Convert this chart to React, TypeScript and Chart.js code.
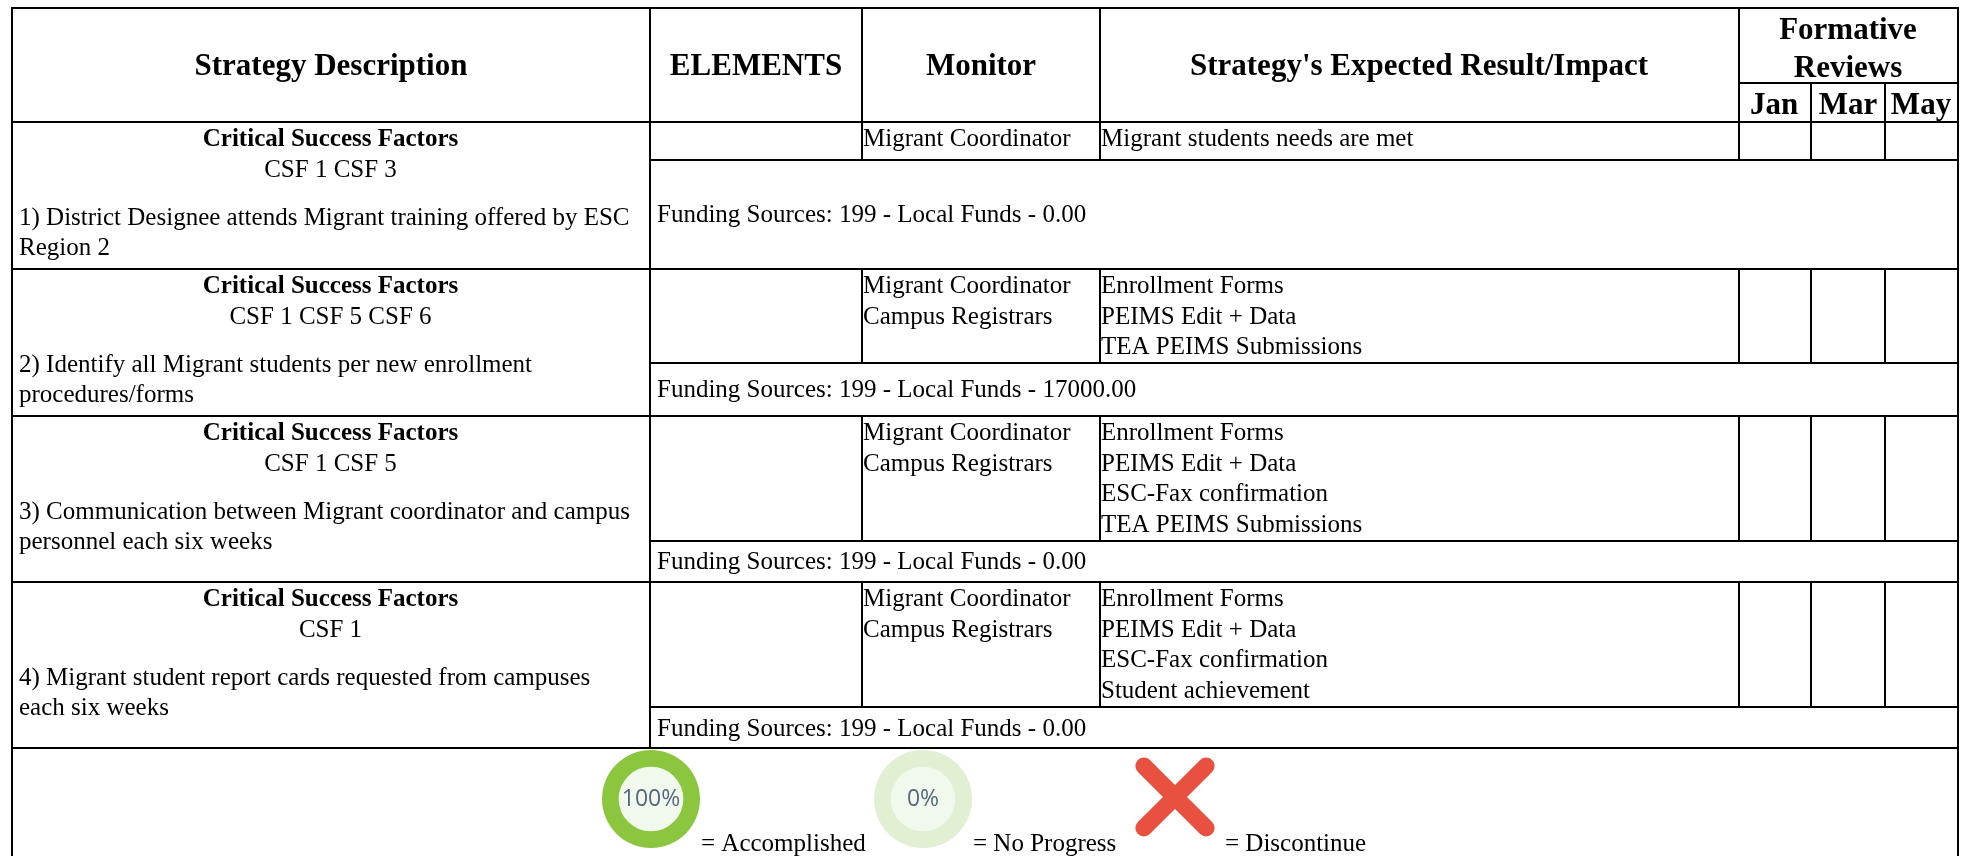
import React, { useEffect, useRef } from "react";
import { Chart, registerables } from "chart.js";

Chart.register(...registerables);

// ---- content ----
const headers = ["Strategy Description", "ELEMENTS", "Monitor", "Strategy's Expected Result/Impact"];
const reviewTitle = ["Formative", "Reviews"];
const reviewMonths = ["Jan", "Mar", "May"];
const factorTitle = "Critical Success Factors";
const factors = ["CSF 1 CSF 3", "CSF 1 CSF 5 CSF 6", "CSF 1 CSF 5", "CSF 1"];
const strategies = [
  ["1) District Designee attends Migrant training offered by ESC", "Region 2"],
  ["2) Identify all Migrant students per new enrollment", "procedures/forms"],
  ["3) Communication between Migrant coordinator and campus", "personnel each six weeks"],
  ["4) Migrant student report cards requested from campuses", "each six weeks"],
];
const monitors = [
  ["Migrant Coordinator"],
  ["Migrant Coordinator", "Campus Registrars"],
  ["Migrant Coordinator", "Campus Registrars"],
  ["Migrant Coordinator", "Campus Registrars"],
];
const results = [
  ["Migrant students needs are met"],
  ["Enrollment Forms", "PEIMS Edit + Data", "TEA PEIMS Submissions"],
  ["Enrollment Forms", "PEIMS Edit + Data", "ESC-Fax confirmation", "TEA PEIMS Submissions"],
  ["Enrollment Forms", "PEIMS Edit + Data", "ESC-Fax confirmation", "Student achievement"],
];
const funding = [
  "Funding Sources: 199 - Local Funds - 0.00",
  "Funding Sources: 199 - Local Funds - 17000.00",
  "Funding Sources: 199 - Local Funds - 0.00",
  "Funding Sources: 199 - Local Funds - 0.00",
];
const legendLabels = ["= Accomplished", "= No Progress", "= Discontinue"];
const progressValues = [100, 0];

// ---- layout of the table, in page pixels ----
const W = 1969;
const H = 856;
const FONT = '"Liberation Serif"';
const BODY = 25;
const HEAD = 31;
const colX = [12, 650, 862, 1100, 1739, 1811, 1885, 1958];
const headerTop = 9;
const monthLine = 83;
const headerBottom = 122;
const rowBottoms = [269, 416, 582, 748];
const subLines = [160, 363, 541, 707];
const rowTops = [122, 269, 416, 582];
const LINE = 30.7;
const firstLineOffset = 17.5;
const factorOffset = 48.5;
const strategyOffset = 96;
const fundingY = [215, 390, 562, 729];
const legendX = [701, 973, 1225];
const legendY = 844;
const doughnutBoxes = [
  { left: 601, top: 749, size: 100 },
  { left: 873, top: 749, size: 100 },
];

const tablePlugin = {
  id: "table",
  beforeDatasetsDraw(chart: any) {
    const { ctx, scales } = chart;
    const X = (v: number) => scales.x.getPixelForValue(v);
    const Y = (v: number) => scales.y.getPixelForValue(v);
    ctx.save();
    ctx.fillStyle = "#fff";
    ctx.fillRect(0, 0, W, H);

    const rule = (x1: number, y1: number, x2: number, y2: number, w = 2) => {
      ctx.beginPath();
      ctx.lineWidth = w;
      ctx.strokeStyle = "#000";
      ctx.moveTo(X(x1), Y(y1));
      ctx.lineTo(X(x2), Y(y2));
      ctx.stroke();
    };
    const text = (s: string, x: number, y: number, size: number, bold = false, align: CanvasTextAlign = "left") => {
      ctx.font = `${bold ? "bold " : ""}${size}px ${FONT}`;
      ctx.textAlign = align;
      ctx.textBaseline = "middle";
      ctx.fillStyle = "#000";
      ctx.fillText(s, X(x), Y(y));
    };

    // outer frame
    rule(colX[0] - 1, headerTop - 1, colX[7] + 1, headerTop - 1);
    rule(colX[0], headerTop - 2, colX[0], H);
    rule(colX[7], headerTop - 2, colX[7], H);
    rule(colX[0], headerBottom, colX[7], headerBottom);
    rowBottoms.forEach((y) => rule(colX[0], y, colX[7], y));

    // vertical rules in the header
    [1, 2, 3, 4].forEach((i) => rule(colX[i], headerTop, colX[i], headerBottom));
    rule(colX[4], monthLine, colX[7], monthLine);
    [5, 6].forEach((i) => rule(colX[i], monthLine, colX[i], headerBottom));

    // body rules
    rowTops.forEach((top, r) => {
      rule(colX[1], top, colX[1], rowBottoms[r]);
      rule(colX[1], subLines[r], colX[7], subLines[r]);
      [2, 3, 4, 5, 6].forEach((i) => rule(colX[i], top, colX[i], subLines[r]));
    });

    // header text
    const headCentres = [331, 756, 981, 1419];
    headers.forEach((h, i) => text(h, headCentres[i], 67, HEAD, true, "center"));
    reviewTitle.forEach((t, i) => text(t, 1848, 31 + i * 37.5, HEAD, true, "center"));
    const monthCentres = [1774, 1848, 1921];
    reviewMonths.forEach((m, i) => text(m, monthCentres[i], 105.5, HEAD, true, "center"));

    // body text
    rowTops.forEach((top, r) => {
      text(factorTitle, 330.5, top + firstLineOffset, BODY, true, "center");
      text(factors[r], 330.5, top + factorOffset, BODY, false, "center");
      strategies[r].forEach((s, i) => text(s, 19, top + strategyOffset + i * LINE, BODY));
      monitors[r].forEach((s, i) => text(s, 863, top + firstLineOffset + i * LINE, BODY));
      results[r].forEach((s, i) => text(s, 1101, top + firstLineOffset + i * LINE, BODY));
      text(funding[r], 657, fundingY[r], BODY);
    });

    // legend captions
    legendLabels.forEach((s, i) => text(s, legendX[i], legendY, BODY));
    ctx.restore();

    ctx.save();
    ctx.lineCap = "round";
  },
  afterDatasetsDraw(chart: any) {
    chart.ctx.restore();
  },
};

function centreLabel(label: string) {
  return {
    id: "centreLabel",
    afterDraw(chart: any) {
      const { ctx, chartArea } = chart;
      ctx.save();
      ctx.font = '500 23px "Open Sans"';
      ctx.textAlign = "center";
      ctx.textBaseline = "middle";
      ctx.fillStyle = "#566880";
      ctx.fillText(label, (chartArea.left + chartArea.right) / 2, (chartArea.top + chartArea.bottom) / 2);
      ctx.restore();
    },
  };
}

export default function App() {
  const tableRef = useRef<HTMLCanvasElement>(null);
  const doneRef = useRef<HTMLCanvasElement>(null);
  const noneRef = useRef<HTMLCanvasElement>(null);

  useEffect(() => {
    document.body.style.margin = "0";
    document.body.style.background = "#fff";
    const table = new Chart(tableRef.current!, {
      type: "scatter",
      data: {
        datasets: [
          {
            data: [{ x: 1175, y: 797 }],
            pointStyle: "crossRot",
            pointRadius: 44,
            pointBorderWidth: 17,
            pointBorderColor: "#E8503F",
            pointBackgroundColor: "#E8503F",
          },
        ],
      },
      options: {
        animation: false,
        responsive: false,
        layout: { padding: 0, autoPadding: false },
        plugins: { legend: { display: false }, tooltip: { enabled: false } },
        scales: {
          x: { type: "linear", min: 0, max: W, display: false },
          y: { type: "linear", min: 0, max: H, reverse: true, display: false },
        },
      },
      plugins: [tablePlugin],
    } as any);

    const ring = (canvas: HTMLCanvasElement, value: number, track: string, fill: string) =>
      new Chart(canvas, {
        type: "doughnut",
        data: {
          labels: ["Done", "Remaining"],
          datasets: [
            {
              data: [value, 100 - value],
              backgroundColor: [fill, track],
              borderWidth: 0,
            },
          ],
        },
        options: {
          animation: false,
          responsive: false,
          cutout: "66%",
          layout: { padding: 1 },
          plugins: { legend: { display: false }, tooltip: { enabled: false } },
        },
        plugins: [
          {
            id: "hole",
            beforeDraw(chart: any) {
              const { ctx, chartArea } = chart;
              ctx.save();
              ctx.fillStyle = "#F1F8EC";
              ctx.beginPath();
              ctx.arc((chartArea.left + chartArea.right) / 2, (chartArea.top + chartArea.bottom) / 2, 34, 0, Math.PI * 2);
              ctx.fill();
              ctx.restore();
            },
          },
          centreLabel(`${value}%`),
        ],
      } as any);

    const done = ring(doneRef.current!, progressValues[0], "#E1EFD3", "#8CC63F");
    const none = ring(noneRef.current!, progressValues[1], "#E1EFD3", "#8CC63F");
    return () => {
      table.destroy();
      done.destroy();
      none.destroy();
    };
  }, []);

  const box = (b: { left: number; top: number; size: number }): React.CSSProperties => ({
    position: "absolute",
    left: b.left,
    top: b.top,
    width: b.size,
    height: b.size,
  });

  return (
    <div style={{ position: "relative", width: W, height: H, overflow: "hidden" }}>
      <canvas ref={tableRef} width={W} height={H} style={{ position: "absolute", left: 0, top: 0 }} />
      <div style={box(doughnutBoxes[0])}>
        <canvas ref={doneRef} width={doughnutBoxes[0].size} height={doughnutBoxes[0].size} />
      </div>
      <div style={box(doughnutBoxes[1])}>
        <canvas ref={noneRef} width={doughnutBoxes[1].size} height={doughnutBoxes[1].size} />
      </div>
    </div>
  );
}
